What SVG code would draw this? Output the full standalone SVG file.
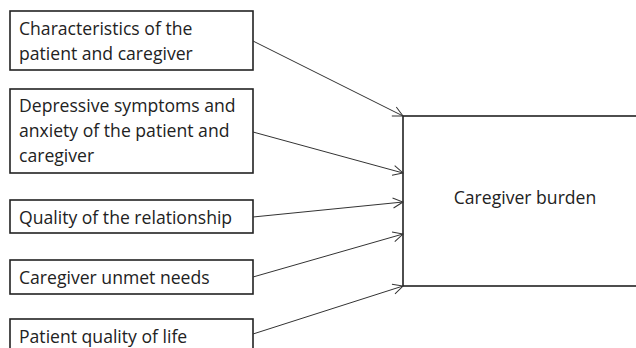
<svg xmlns="http://www.w3.org/2000/svg" width="636" height="348" viewBox="0 0 636 348">
<style>
.box{fill:#fff;stroke:#222;stroke-width:1.6}
.t{font-family:"Open Sans","Liberation Sans",sans-serif;font-size:17.6px;fill:#222}
.c{stroke:#333;stroke-width:1;fill:none;marker-end:url(#arr)}
</style>
<defs>
<marker id="arr" viewBox="0 0 12 12" refX="11" refY="6" markerWidth="12" markerHeight="12" markerUnits="userSpaceOnUse" orient="auto">
<path d="M1,1 L11,6 L1,11" fill="none" stroke="#333" stroke-width="1"/>
</marker>
</defs>
<rect width="636" height="348" fill="#fff"/>
<g id="n1"><rect class="box" x="10" y="11" width="243" height="59"/><text class="t" x="19" y="35">Characteristics of the</text><text class="t" x="19" y="60">patient and caregiver</text></g>
<g id="n2"><rect class="box" x="10" y="89" width="243" height="84"/><text class="t" x="19" y="112">Depressive symptoms and</text><text class="t" x="19" y="137">anxiety of the patient and</text><text class="t" x="19" y="162">caregiver</text></g>
<g id="n3"><rect class="box" x="10" y="200" width="243" height="33"/><text class="t" x="19" y="224">Quality of the relationship</text></g>
<g id="n4"><rect class="box" x="10" y="260" width="243" height="34"/><text class="t" x="19" y="284">Caregiver unmet needs</text></g>
<g id="n5"><rect class="box" x="10" y="319" width="243" height="40"/><text class="t" x="19" y="343">Patient quality of life</text></g>
<g id="target"><rect class="box" x="403" y="116" width="240" height="170"/><text class="t" x="525" y="204" text-anchor="middle">Caregiver burden</text></g>
<g id="connectors">
<line class="c" x1="253" y1="41" x2="403" y2="116"/>
<line class="c" x1="253" y1="132" x2="403" y2="173"/>
<line class="c" x1="253" y1="217" x2="403" y2="202"/>
<line class="c" x1="253" y1="277" x2="403" y2="234"/>
<line class="c" x1="253" y1="334" x2="403" y2="286"/>
</g>
</svg>
